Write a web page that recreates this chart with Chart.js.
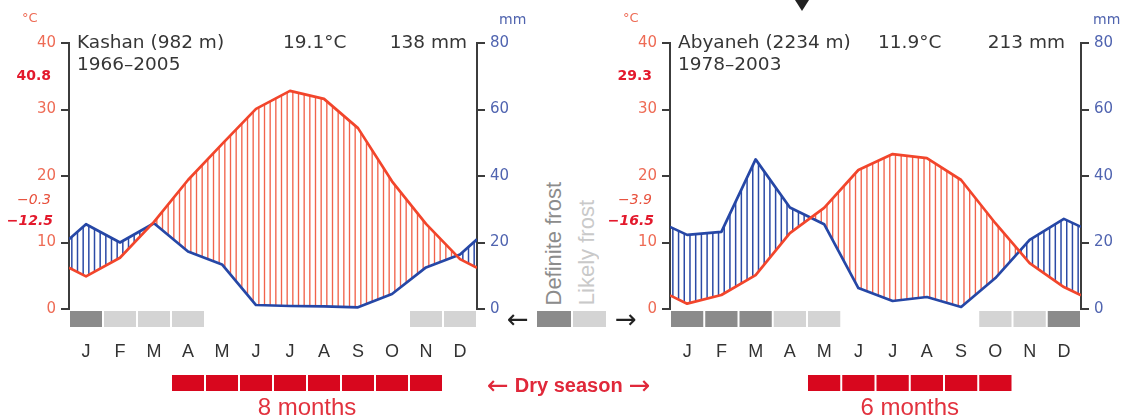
<!DOCTYPE html>
<html>
<head>
<meta charset="utf-8">
<script src="https://cdn.jsdelivr.net/npm/chart.js@4.4.1/dist/chart.umd.min.js"></script>
<style>
  body { margin: 0; background: #fff; width: 1132px; height: 418px; overflow: hidden; position: relative; font-family: "Liberation Sans", Arial, sans-serif; }
  canvas { position: absolute; top: 0; }
  #kashan { left: 0; }
  #abyaneh { left: 600px; }
  .abs { position: absolute; white-space: nowrap; }
  .frostText { font-size: 22px; line-height: 22px; writing-mode: vertical-rl; transform: rotate(180deg); bottom: 113px; }
  .cell { position: absolute; top: 311px; height: 16px; }
  .arrow { font-family: "DejaVu Sans"; font-size: 26px; line-height: 26px; color: #222; top: 306px; }
  .dry { left: 487px; top: 372px; height: 26px; display: flex; align-items: center; gap: 6px; color: #e0283a; }
  .dry b { font-size: 20px; }
  .dry span { font-family: "DejaVu Sans"; font-size: 26px; line-height: 26px; }
  .pointer { position: absolute; left: 795px; top: 0; width: 0; height: 0; border-left: 7px solid transparent; border-right: 7px solid transparent; border-top: 11px solid #222; }
</style>
</head>
<body>
<canvas id="kashan" width="540" height="418"></canvas>
<canvas id="abyaneh" width="532" height="418"></canvas>

<div class="pointer"></div>
<div class="abs frostText" style="left:543px; color:#8c8c8c;">Definite frost</div>
<div class="abs frostText" style="left:576px; color:#c9c9c9;">Likely frost</div>
<div class="cell" style="left:537px; width:34px; background:#8b8b8b;"></div>
<div class="cell" style="left:573px; width:33px; background:#d4d4d4;"></div>
<div class="abs arrow" style="left:507px;">←</div>
<div class="abs arrow" style="left:615px;">→</div>
<div class="abs dry"><span>←</span><b>Dry season</b><span>→</span></div>

<script>
const months = ["J", "F", "M", "A", "M", "J", "J", "A", "S", "O", "N", "D"];

// Kashan, monthly means
const kashanTemp = [4.9, 7.7, 13.1, 19.4, 24.8, 30.1, 32.8, 31.6, 27.2, 19.2, 12.8, 7.5];
const kashanRain = [25.5, 20.0, 25.8, 17.3, 13.4, 1.2, 0.9, 0.8, 0.5, 4.5, 12.5, 16.4];
const kashanFrost = [2, 1, 1, 1, 0, 0, 0, 0, 0, 0, 1, 1]; // 2 = definite, 1 = likely
const kashanDry = [0, 0, 0, 1, 1, 1, 1, 1, 1, 1, 1, 0];
const kashanExtremes = ["40.8", "−0.3", "−12.5"];

// Abyaneh, monthly means
const abyanehTemp = [0.8, 2.1, 5.1, 11.4, 15.2, 20.9, 23.3, 22.7, 19.4, 12.9, 6.9, 3.3];
const abyanehRain = [22.3, 23.2, 45.0, 30.5, 25.5, 6.3, 2.4, 3.6, 0.6, 9.3, 20.8, 27.1];
const abyanehFrost = [2, 2, 2, 1, 1, 0, 0, 0, 0, 1, 1, 2];
const abyanehDry = [0, 0, 0, 0, 1, 1, 1, 1, 1, 1, 0, 0];
const abyanehExtremes = ["29.3", "−3.9", "−16.5"];

Chart.defaults.font.family = '"Liberation Sans", Arial, sans-serif';

// close the curve on both axes with the Dec/Jan mean
function yearLine(values) {
  const edge = (values[0] + values[11]) / 2;
  return [{x: 0, y: edge}, ...values.map((v, i) => ({x: i + 0.5, y: v})), {x: 12, y: edge}];
}

function yAt(pts, x) {
  for (let i = 1; i < pts.length; i++) {
    if (x <= pts[i].x) {
      const a = pts[i - 1], b = pts[i];
      return a.y + (b.y - a.y) * (x - a.x) / (b.x - a.x);
    }
  }
  return pts[pts.length - 1].y;
}

// vertical hatching between the two curves: blue where humid, red where arid
const hatchPlugin = {
  id: "hatch",
  beforeDatasetsDraw(chart) {
    const t = chart.getDatasetMeta(0).data, p = chart.getDatasetMeta(1).data;
    const {ctx, chartArea: ca, scales: {x}} = chart;
    const step = (x.getPixelForValue(1) - x.getPixelForValue(0)) / 6;
    ctx.save();
    for (let px = ca.left + step / 2; px < ca.right; px += step) {
      const yt = yAt(t, px), yp = yAt(p, px);
      ctx.beginPath();
      if (yp < yt) {
        ctx.strokeStyle = "#2b4aa6";
        ctx.lineWidth = 1.5;
      } else {
        ctx.strokeStyle = "#f1634b";
        ctx.lineWidth = 1.35;
      }
      ctx.moveTo(px, yt);
      ctx.lineTo(px, yp);
      ctx.stroke();
    }
    ctx.restore();
  }
};

function decor(st) {
  return {
    id: "climateDecor",
    afterDraw(chart) {
      const {ctx, chartArea: ca, scales: {x}} = chart;
      ctx.save();

      st.frost.forEach((f, i) => {
        if (!f) return;
        const x0 = x.getPixelForValue(i), x1 = x.getPixelForValue(i + 1);
        ctx.fillStyle = f === 2 ? "#8b8b8b" : "#d4d4d4";
        ctx.fillRect(x0 + 1, ca.bottom + 2, x1 - x0 - 2, 16);
      });

      let first = -1, last = -1, n = 0;
      ctx.fillStyle = "#d8071e";
      st.dry.forEach((d, i) => {
        if (!d) return;
        const x0 = x.getPixelForValue(i), x1 = x.getPixelForValue(i + 1);
        ctx.fillRect(x0 + 1, ca.bottom + 66, x1 - x0 - 2, 16);
        if (first < 0) first = i;
        last = i;
        n++;
      });
      ctx.fillStyle = "#e2323e";
      ctx.font = '24px "Liberation Sans"';
      ctx.textAlign = "center";
      ctx.textBaseline = "alphabetic";
      ctx.fillText(n + " months", (x.getPixelForValue(first) + x.getPixelForValue(last + 1)) / 2, ca.bottom + 106);

      // station header
      ctx.fillStyle = "#363636";
      ctx.font = '18.5px "DejaVu Sans"';
      ctx.textAlign = "left";
      ctx.fillText(st.name, ca.left + 8, 48);
      ctx.fillText(st.period, ca.left + 8, 70);
      ctx.fillText(st.meanT, st.meanX, 48);
      ctx.textAlign = "right";
      ctx.fillText(st.total, st.totalX, 48);

      // absolute max, mean daily min of coldest month, absolute min
      ctx.textBaseline = "middle";
      const ex = ca.left - 18;
      ctx.fillStyle = "#e3192c";
      ctx.font = 'bold 14px "DejaVu Sans"';
      ctx.fillText(st.ext[0], ex, ca.top + 33);
      ctx.fillStyle = "#e8503c";
      ctx.font = 'italic 14px "DejaVu Sans"';
      ctx.fillText(st.ext[1], ex, ca.top + 157);
      ctx.fillStyle = "#e3192c";
      ctx.font = 'bold italic 14px "DejaVu Sans"';
      ctx.fillText(st.ext[2], ex + 2, ca.top + 178);

      // axis units
      ctx.textAlign = "left";
      ctx.font = '13px "DejaVu Sans"';
      ctx.fillStyle = "#ee6b55";
      ctx.fillText("°C", ca.left - 47, 19);
      ctx.font = '14px "DejaVu Sans"';
      ctx.fillStyle = "#4f63ae";
      ctx.fillText("mm", ca.right + st.mmDx, 20);
      ctx.restore();
    }
  };
}

function climateChart(id, st) {
  const axisColor = "#3c3c3c";
  return new Chart(document.getElementById(id), {
    type: "line",
    data: {
      datasets: [{
        label: "Temperature",
        data: yearLine(st.temp),
        yAxisID: "yT",
        borderColor: "#f2452b",
        borderWidth: 2.7,
        borderJoinStyle: "round",
        pointRadius: 0,
        tension: 0
      }, {
        label: "Precipitation",
        data: yearLine(st.rain),
        yAxisID: "yP",
        borderColor: "#2647a6",
        borderWidth: 2.7,
        borderJoinStyle: "round",
        pointRadius: 0,
        tension: 0
      }]
    },
    options: {
      responsive: false,
      animation: false,
      layout: { padding: { top: 43, left: 0, right: 0, bottom: 0 } },
      plugins: { legend: { display: false }, tooltip: { enabled: false } },
      scales: {
        x: {
          type: "linear",
          min: 0,
          max: 12,
          afterBuildTicks: axis => { axis.ticks = months.map((m, i) => ({ value: i + 0.5 })); },
          afterFit: s => { s.height = 109; },
          ticks: {
            autoSkip: false,
            maxRotation: 0,
            padding: 32,
            color: "#333",
            font: { size: 18 },
            callback: (v, i) => months[i]
          },
          grid: { display: false, drawTicks: false },
          border: { display: false }
        },
        yT: {
          position: "left",
          min: 0,
          max: 40,
          afterFit: s => { s.width = st.leftW; },
          ticks: { stepSize: 10, padding: 5, color: "#ee6b55", font: { family: '"DejaVu Sans"', size: 15 } },
          grid: { drawOnChartArea: false, color: axisColor, lineWidth: 2, tickLength: 8 },
          border: { color: axisColor, width: 2 }
        },
        yP: {
          position: "right",
          min: 0,
          max: 80,
          afterFit: s => { s.width = st.rightW; },
          ticks: { stepSize: 20, padding: 5, color: "#5064b0", font: { family: '"DejaVu Sans"', size: 15 } },
          grid: { drawOnChartArea: false, color: axisColor, lineWidth: 2, tickLength: 8 },
          border: { color: axisColor, width: 2 }
        }
      }
    },
    plugins: [hatchPlugin, decor(st)]
  });
}

climateChart("kashan", {
  temp: kashanTemp, rain: kashanRain, frost: kashanFrost, dry: kashanDry, ext: kashanExtremes,
  name: "Kashan (982 m)", period: "1966–2005", meanT: "19.1°C", total: "138 mm",
  leftW: 69, rightW: 63, meanX: 283, totalX: 467, mmDx: 22
});

climateChart("abyaneh", {
  temp: abyanehTemp, rain: abyanehRain, frost: abyanehFrost, dry: abyanehDry, ext: abyanehExtremes,
  name: "Abyaneh (2234 m)", period: "1978–2003", meanT: "11.9°C", total: "213 mm",
  leftW: 70, rightW: 51, meanX: 278, totalX: 465, mmDx: 12
});
</script>
</body>
</html>
